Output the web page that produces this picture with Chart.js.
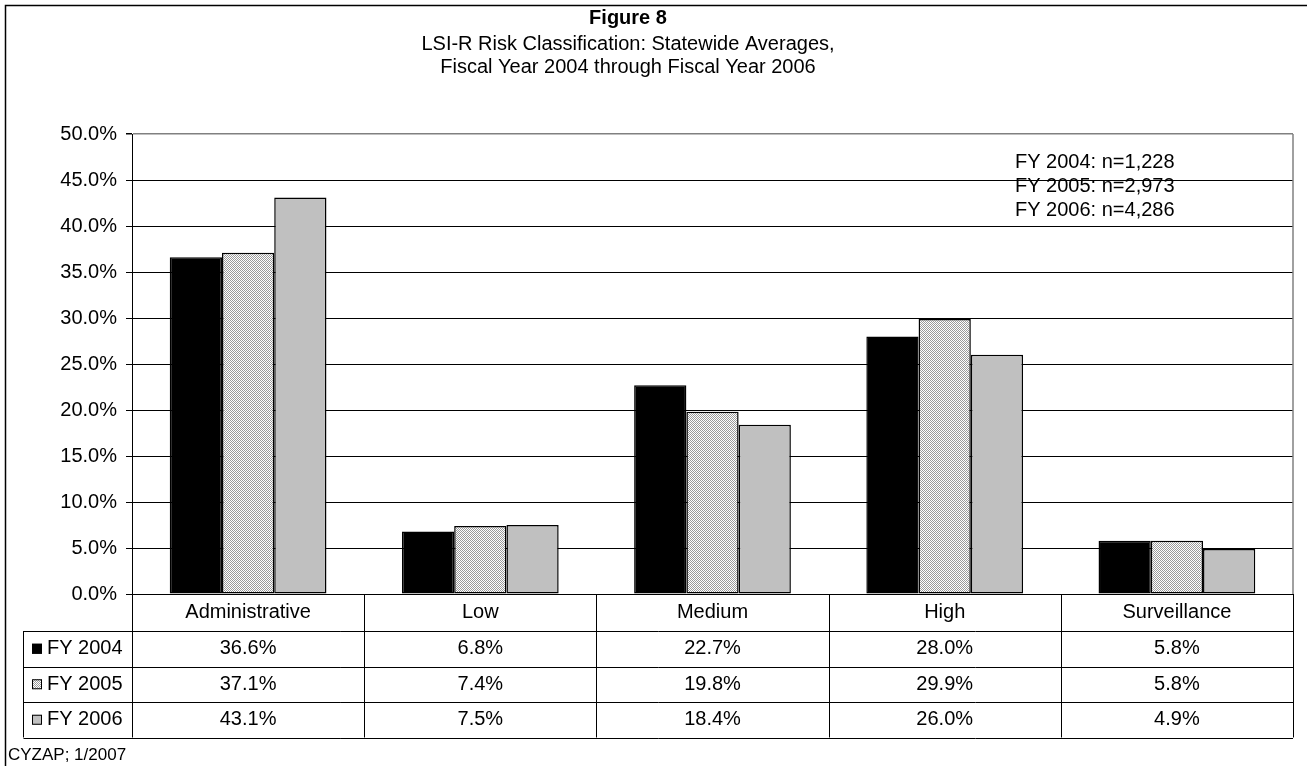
<!DOCTYPE html>
<html>
<head>
<meta charset="utf-8">
<title>Figure 8 – LSI-R Risk Classification</title>
<script src="https://cdn.jsdelivr.net/npm/chart.js@4/dist/chart.umd.min.js"></script>
<style>
  html, body { margin: 0; padding: 0; background: #fff; }
  #wrap { width: 1307px; height: 766px; }
</style>
</head>
<body>
<div id="wrap"><canvas id="chart" width="1307" height="766"></canvas></div>
<script>
// Risk categories and the share of youth in each, by fiscal year
const categories = ['Administrative', 'Low', 'Medium', 'High', 'Surveillance'];
const seriesLabels = ['FY 2004', 'FY 2005', 'FY 2006'];
const fy2004 = [36.6, 6.8, 22.7, 28.0, 5.8];
const fy2005 = [37.1, 7.4, 19.8, 29.9, 5.8];
const fy2006 = [43.1, 7.5, 18.4, 26.0, 4.9];

// Axis range and tick spacing (percent)
const yMin = 0;
const yMax = 50;
const yStep = 5;

// Text blocks
const titleMain = 'Figure 8';
const titleSub = ['LSI-R Risk Classification: Statewide Averages,', 'Fiscal Year 2004 through Fiscal Year 2006'];
const sampleSizes = ['FY 2004: n=1,228', 'FY 2005: n=2,973', 'FY 2006: n=4,286'];
const footnote = 'CYZAP; 1/2007';

const FONT = '"Liberation Sans", Arial, Helvetica, sans-serif';

// Fine dotted fill used for the middle series
function makeDotPattern() {
  const c = document.createElement('canvas');
  c.width = 2; c.height = 2;
  const g = c.getContext('2d');
  g.fillStyle = '#ffffff';
  g.fillRect(0, 0, 2, 2);
  g.fillStyle = '#9a9a9a';
  g.fillRect(0, 0, 1, 1);
  g.fillRect(1, 1, 1, 1);
  return g.createPattern(c, 'repeat');
}
const dotFill = makeDotPattern();
const fills = ['#000000', dotFill, '#c0c0c0'];
const seriesData = [fy2004, fy2005, fy2006];

const pct = v => v.toFixed(1) + '%';

// Titles, outer frame, sample-size note and footnote
const decorPlugin = {
  id: 'decor',
  beforeDraw(chart) {
    const ctx = chart.ctx;
    ctx.save();
    ctx.fillStyle = '#fff';
    ctx.fillRect(0, 0, chart.width, chart.height);
    ctx.strokeStyle = '#000';
    ctx.lineWidth = 1.5;
    ctx.strokeRect(5.5, 5.5, chart.width + 20, chart.height + 20);
    ctx.restore();
  },
  afterDraw(chart) {
    const ctx = chart.ctx;
    ctx.save();
    ctx.fillStyle = '#000';
    ctx.textAlign = 'center';
    ctx.textBaseline = 'middle';
    ctx.font = 'bold 20px ' + FONT;
    ctx.fillText(titleMain, 628, 18);
    ctx.font = '20px ' + FONT;
    titleSub.forEach((t, i) => ctx.fillText(t, 628, 44 + i * 23));

    ctx.textAlign = 'left';
    sampleSizes.forEach((t, i) => ctx.fillText(t, 1015, 162 + i * 24));

    ctx.font = '17px ' + FONT;
    ctx.fillText(footnote, 8, 755);
    ctx.restore();
  }
};

// Plot frame on the right plus the data table under the axis
const tablePlugin = {
  id: 'dataTable',
  afterDatasetsDraw(chart) {
    const ctx = chart.ctx;
    const area = chart.chartArea;
    const xs = chart.scales.x;
    const n = categories.length;
    const colW = (area.right - area.left) / n;
    const headerBottom = area.bottom + 37;
    const rowH = 35.5;
    const tableBottom = headerBottom + rowH * seriesLabels.length;
    const legendLeft = 23.5;

    ctx.save();
    // right edge of the plot
    ctx.strokeStyle = '#808080';
    ctx.lineWidth = 1.5;
    ctx.beginPath();
    ctx.moveTo(area.right, area.top);
    ctx.lineTo(area.right, area.bottom);
    ctx.stroke();

    ctx.strokeStyle = '#000';
    ctx.lineWidth = 1;
    ctx.beginPath();
    // vertical column lines
    for (let i = 0; i <= n; i++) {
      const x = Math.round(area.left + i * colW) + 0.5;
      ctx.moveTo(x, area.bottom);
      ctx.lineTo(x, tableBottom);
    }
    // legend column left edge
    ctx.moveTo(legendLeft, headerBottom);
    ctx.lineTo(legendLeft, tableBottom);
    // horizontal rules
    for (let r = 0; r <= seriesLabels.length; r++) {
      const y = Math.round(headerBottom + r * rowH) + 0.5;
      ctx.moveTo(legendLeft, y);
      ctx.lineTo(area.right, y);
    }
    ctx.stroke();

    ctx.fillStyle = '#000';
    ctx.textBaseline = 'middle';
    ctx.font = '20px ' + FONT;
    ctx.textAlign = 'center';
    categories.forEach((c, i) => {
      const cx = xs.getPixelForValue(i);
      ctx.fillText(c, cx, (area.bottom + headerBottom) / 2);
      seriesData.forEach((arr, r) => {
        ctx.fillText(pct(arr[i]), cx, headerBottom + rowH * r + rowH / 2);
      });
    });

    // legend keys
    ctx.textAlign = 'left';
    seriesLabels.forEach((lab, r) => {
      const cy = headerBottom + rowH * r + rowH / 2;
      ctx.fillStyle = fills[r];
      ctx.fillRect(32, cy - 5, 10, 10);
      ctx.strokeStyle = '#000';
      ctx.lineWidth = 1;
      ctx.strokeRect(32.5, cy - 4.5, 9, 9);
      ctx.fillStyle = '#000';
      ctx.fillText(lab, 47, cy);
    });
    ctx.restore();
  }
};

new Chart(document.getElementById('chart'), {
  type: 'bar',
  data: {
    labels: categories,
    datasets: seriesLabels.map((lab, i) => ({
      label: lab,
      data: seriesData[i],
      backgroundColor: fills[i],
      borderColor: '#000',
      borderWidth: 1.5,
      borderSkipped: false,
      categoryPercentage: 0.675,
      barPercentage: 1.0
    }))
  },
  options: {
    responsive: false,
    devicePixelRatio: 1,
    animation: false,
    layout: { padding: { left: 0, top: 134, right: 14, bottom: 0 } },
    plugins: {
      legend: { display: false },
      title: { display: false },
      tooltip: { enabled: false }
    },
    scales: {
      x: {
        ticks: { display: false },
        grid: { display: false },
        border: { display: true, color: '#000', width: 1 },
        afterFit(scale) { scale.height = 172; }
      },
      y: {
        min: yMin,
        max: yMax,
        ticks: {
          stepSize: yStep,
          color: '#000',
          padding: 9,
          font: { family: FONT, size: 20 },
          callback: v => v.toFixed(1) + '%'
        },
        grid: {
          color: ctx => (ctx.tick && ctx.tick.value === yMax) ? '#808080' : '#000',
          lineWidth: ctx => (ctx.tick && ctx.tick.value === yMax) ? 1.5 : 1,
          tickColor: '#000',
          tickLength: 6
        },
        border: { display: true, color: '#000', width: 1 },
        afterFit(scale) { scale.width = 132; }
      }
    }
  },
  plugins: [decorPlugin, tablePlugin]
});
</script>
</body>
</html>
